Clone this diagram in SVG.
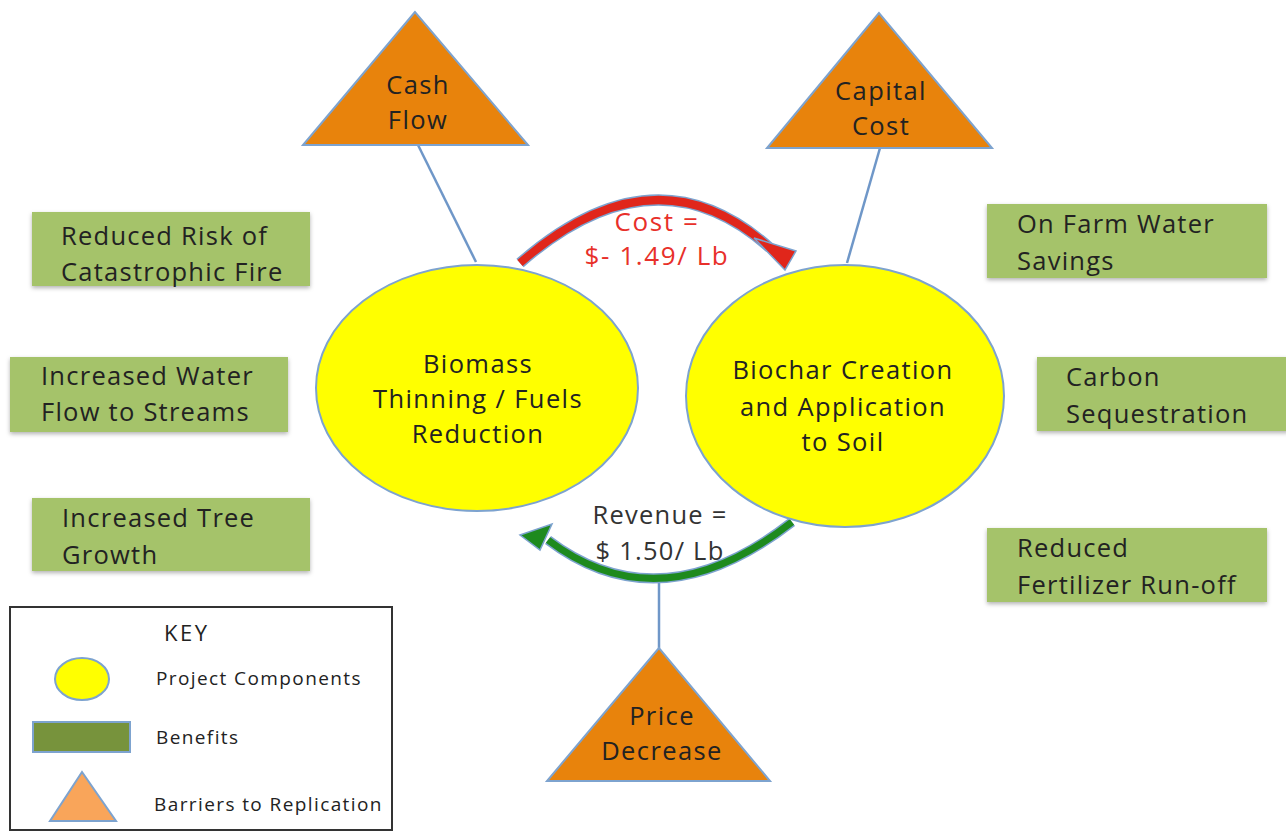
<svg xmlns="http://www.w3.org/2000/svg" width="1286" height="835" viewBox="0 0 1286 835">
<defs>
<filter id="sh" x="-10%" y="-10%" width="120%" height="130%">
<feDropShadow dx="0" dy="2" stdDeviation="2" flood-color="#000" flood-opacity="0.3"/>
</filter>
</defs>
<style>
text{font-family:"Open Sans","Liberation Sans",sans-serif;fill:#222}
.t{font-size:25.5px;letter-spacing:1.25px}
.e{font-size:25.5px;letter-spacing:1.4px}
.c{text-anchor:middle}
.tri{fill:#e8830c;stroke:#7da3cf;stroke-width:2}
.ell{fill:#ffff00;stroke:#7da3cf;stroke-width:2}
.ben{fill:#a5c36a;filter:url(#sh)}
.ln{stroke:#6f97c8;stroke-width:2.5;fill:none}
.k{font-size:19px;letter-spacing:1.4px}
</style>
<rect width="1286" height="835" fill="#ffffff"/>

<g id="connectors">
<line class="ln" x1="418" y1="145" x2="476" y2="262"/>
<line class="ln" x1="880" y1="148" x2="847" y2="263"/>
<line class="ln" x1="659" y1="648" x2="659" y2="583"/>
<g id="cost-arrow">
<path d="M520 263 Q655 145 770 248" fill="none" stroke="#7da3cf" stroke-width="11"/>
<path d="M520 263 Q655 145 770 248" fill="none" stroke="#e0261b" stroke-width="8"/>
<polygon points="754,238 796,251 785,270" fill="#e0261b" stroke="#7da3cf" stroke-width="1.5"/>
</g>
<g id="revenue-arrow">
<path d="M792 522 Q660 625 548 540" fill="none" stroke="#7da3cf" stroke-width="10"/>
<path d="M792 522 Q660 625 548 540" fill="none" stroke="#1e8a1e" stroke-width="7"/>
<polygon points="520,535 552,524 540,550" fill="#1e8a1e" stroke="#7da3cf" stroke-width="1.5"/>
</g>
<text class="c" x="657" y="231" style="fill:#e8302a;font-size:26px;letter-spacing:1.6px">Cost =</text>
<text class="c" x="657" y="265" style="fill:#e8302a;font-size:26px;letter-spacing:1.6px">$- 1.49/ Lb</text>
<text class="t c" x="660" y="524" style="fill:#333">Revenue =</text>
<text class="t c" x="660" y="560" style="fill:#333">$ 1.50/ Lb</text>
</g>

<g id="cash-flow">
<polygon class="tri" points="415,12 303,145 528,145"/>
<text class="e c" x="418" y="94">Cash</text>
<text class="e c" x="418" y="129">Flow</text>
</g>
<g id="capital-cost">
<polygon class="tri" points="879,13 767,148 992,148"/>
<text class="e c" x="881" y="100">Capital</text>
<text class="e c" x="881" y="135">Cost</text>
</g>
<g id="price-decrease">
<polygon class="tri" points="659,648 547,781 770,781"/>
<text class="e c" x="662" y="725">Price</text>
<text class="e c" x="662" y="760">Decrease</text>
</g>

<g id="biomass">
<ellipse class="ell" cx="477" cy="388" rx="161" ry="123"/>
<text class="e c" x="478" y="373">Biomass</text>
<text class="e c" x="478" y="408">Thinning / Fuels</text>
<text class="e c" x="478" y="443">Reduction</text>
</g>
<g id="biochar">
<ellipse class="ell" cx="845" cy="396" rx="159" ry="131"/>
<text class="e c" x="843" y="379">Biochar Creation</text>
<text class="e c" x="843" y="416">and Application</text>
<text class="e c" x="843" y="451">to Soil</text>
</g>

<g id="b-fire">
<rect class="ben" x="32" y="212" width="278" height="74"/>
<text class="t" x="61" y="245">Reduced Risk of</text>
<text class="t" x="61" y="281">Catastrophic Fire</text>
</g>
<g id="b-water-flow">
<rect class="ben" x="10" y="357" width="278" height="75"/>
<text class="t" x="41" y="385">Increased Water</text>
<text class="t" x="41" y="421">Flow to Streams</text>
</g>
<g id="b-tree">
<rect class="ben" x="32" y="498" width="278" height="73"/>
<text class="t" x="62" y="527">Increased Tree</text>
<text class="t" x="62" y="564">Growth</text>
</g>
<g id="b-farm-water">
<rect class="ben" x="987" y="204" width="280" height="74"/>
<text class="t" x="1017" y="233">On Farm Water</text>
<text class="t" x="1017" y="270">Savings</text>
</g>
<g id="b-carbon">
<rect class="ben" x="1037" y="357" width="252" height="74"/>
<text class="t" x="1066" y="386">Carbon</text>
<text class="t" x="1066" y="423">Sequestration</text>
</g>
<g id="b-fertilizer">
<rect class="ben" x="987" y="528" width="280" height="74"/>
<text class="t" x="1017" y="557">Reduced</text>
<text class="t" x="1017" y="594">Fertilizer Run-off</text>
</g>

<g id="key">
<rect x="10" y="607" width="382" height="223" fill="#fff" stroke="#333" stroke-width="2"/>
<text x="164" y="641" style="font-size:22px;letter-spacing:2.5px">KEY</text>
<ellipse cx="82" cy="679" rx="27" ry="21" fill="#ffff00" stroke="#7da3cf" stroke-width="2"/>
<text class="k" x="156" y="685">Project Components</text>
<rect x="33" y="722" width="97" height="30" fill="#77933c" stroke="#7da3cf" stroke-width="2"/>
<text class="k" x="156" y="744">Benefits</text>
<polygon points="82,772 50,821 116,821" fill="#f9a55a" stroke="#7da3cf" stroke-width="2"/>
<text class="k" x="154" y="811">Barriers to Replication</text>
</g>
</svg>
